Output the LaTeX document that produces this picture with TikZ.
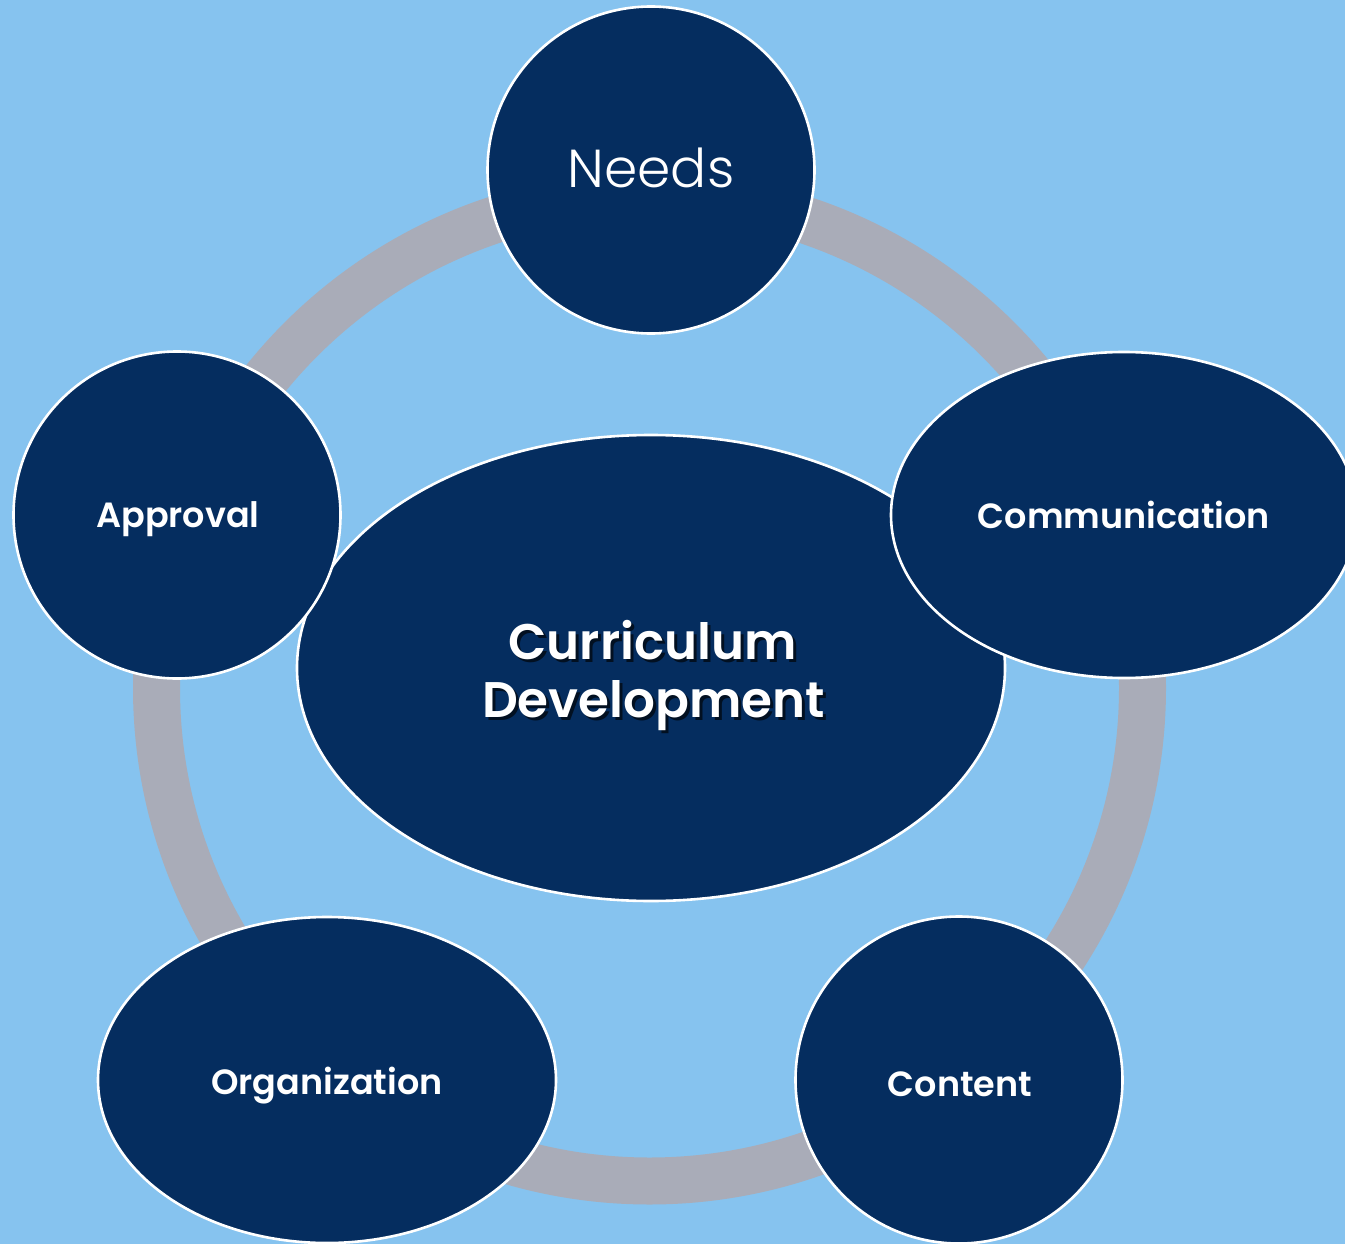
\documentclass[tikz,border=0pt]{standalone}
\usepackage{fontspec}
\setmainfont{Poppins}[BoldFont={Poppins SemiBold}]
\newfontfamily\poplight{Poppins Light}
\usetikzlibrary{shapes.geometric}
\definecolor{bgblue}{HTML}{86C3EF}
\definecolor{navy}{HTML}{052D5F}
\definecolor{ringgray}{HTML}{A9ACB8}
\colorlet{shadowc}{black!65!navy}
\newcommand\myshadowtext[1]{\leavevmode\rlap{\kern3pt\raisebox{-3pt}{\color{shadowc}#1}}#1}
\tikzset{
  bubble/.style={ellipse, fill=navy, draw=white, line width=2.6pt, inner sep=0pt, text=white},
  lbl/.style={text=white, font=\bfseries\fontsize{35}{42}\selectfont, inner sep=0pt, anchor=base},
  bigtxt/.style={text=white, font=\bfseries\fontsize{50}{58}\selectfont, inner sep=0pt, anchor=base},
}
\begin{document}
\begin{tikzpicture}[x=1pt,y=-1pt]
\useasboundingbox (0,0) rectangle (1345,1244);
\clip (0,0) rectangle (1345,1244);
\fill[bgblue] (0,0) rectangle (1345,1244);
% ring
\draw[ringgray, line width=47pt] (649.5,688) circle[radius=493];
% center
\node[bubble, minimum width=708pt, minimum height=466pt] (cd) at (651,668) {};
\node[bigtxt] (cdt1) at (652.5,659) {\myshadowtext{Curriculum}};
\node[bigtxt] (cdt2) at (653.5,717) {\myshadowtext{Development}};
% outer nodes
\node[bubble, minimum width=327pt, minimum height=327pt] (needs) at (651,170) {};
\node[text=white, font=\poplight\fontsize{53.5}{60}\selectfont, inner sep=0pt, anchor=base] (needst) at (651,188) {Needs};
\node[bubble, minimum width=466pt, minimum height=326pt] (comm) at (1124,515) {};
\node[lbl] (commt) at (1124,528) {Communication};
\node[bubble, minimum width=327pt, minimum height=327pt] (cont) at (959,1080) {};
\node[lbl] (contt) at (960,1096) {Content};
\node[bubble, minimum width=458pt, minimum height=326pt] (org) at (327,1080) {};
\node[lbl] (orgt) at (327,1094) {Organization};
\node[bubble, minimum width=327pt, minimum height=327pt] (appr) at (177,515) {};
\node[lbl] (apprt) at (178,527) {Approval};
\end{tikzpicture}
\end{document}
